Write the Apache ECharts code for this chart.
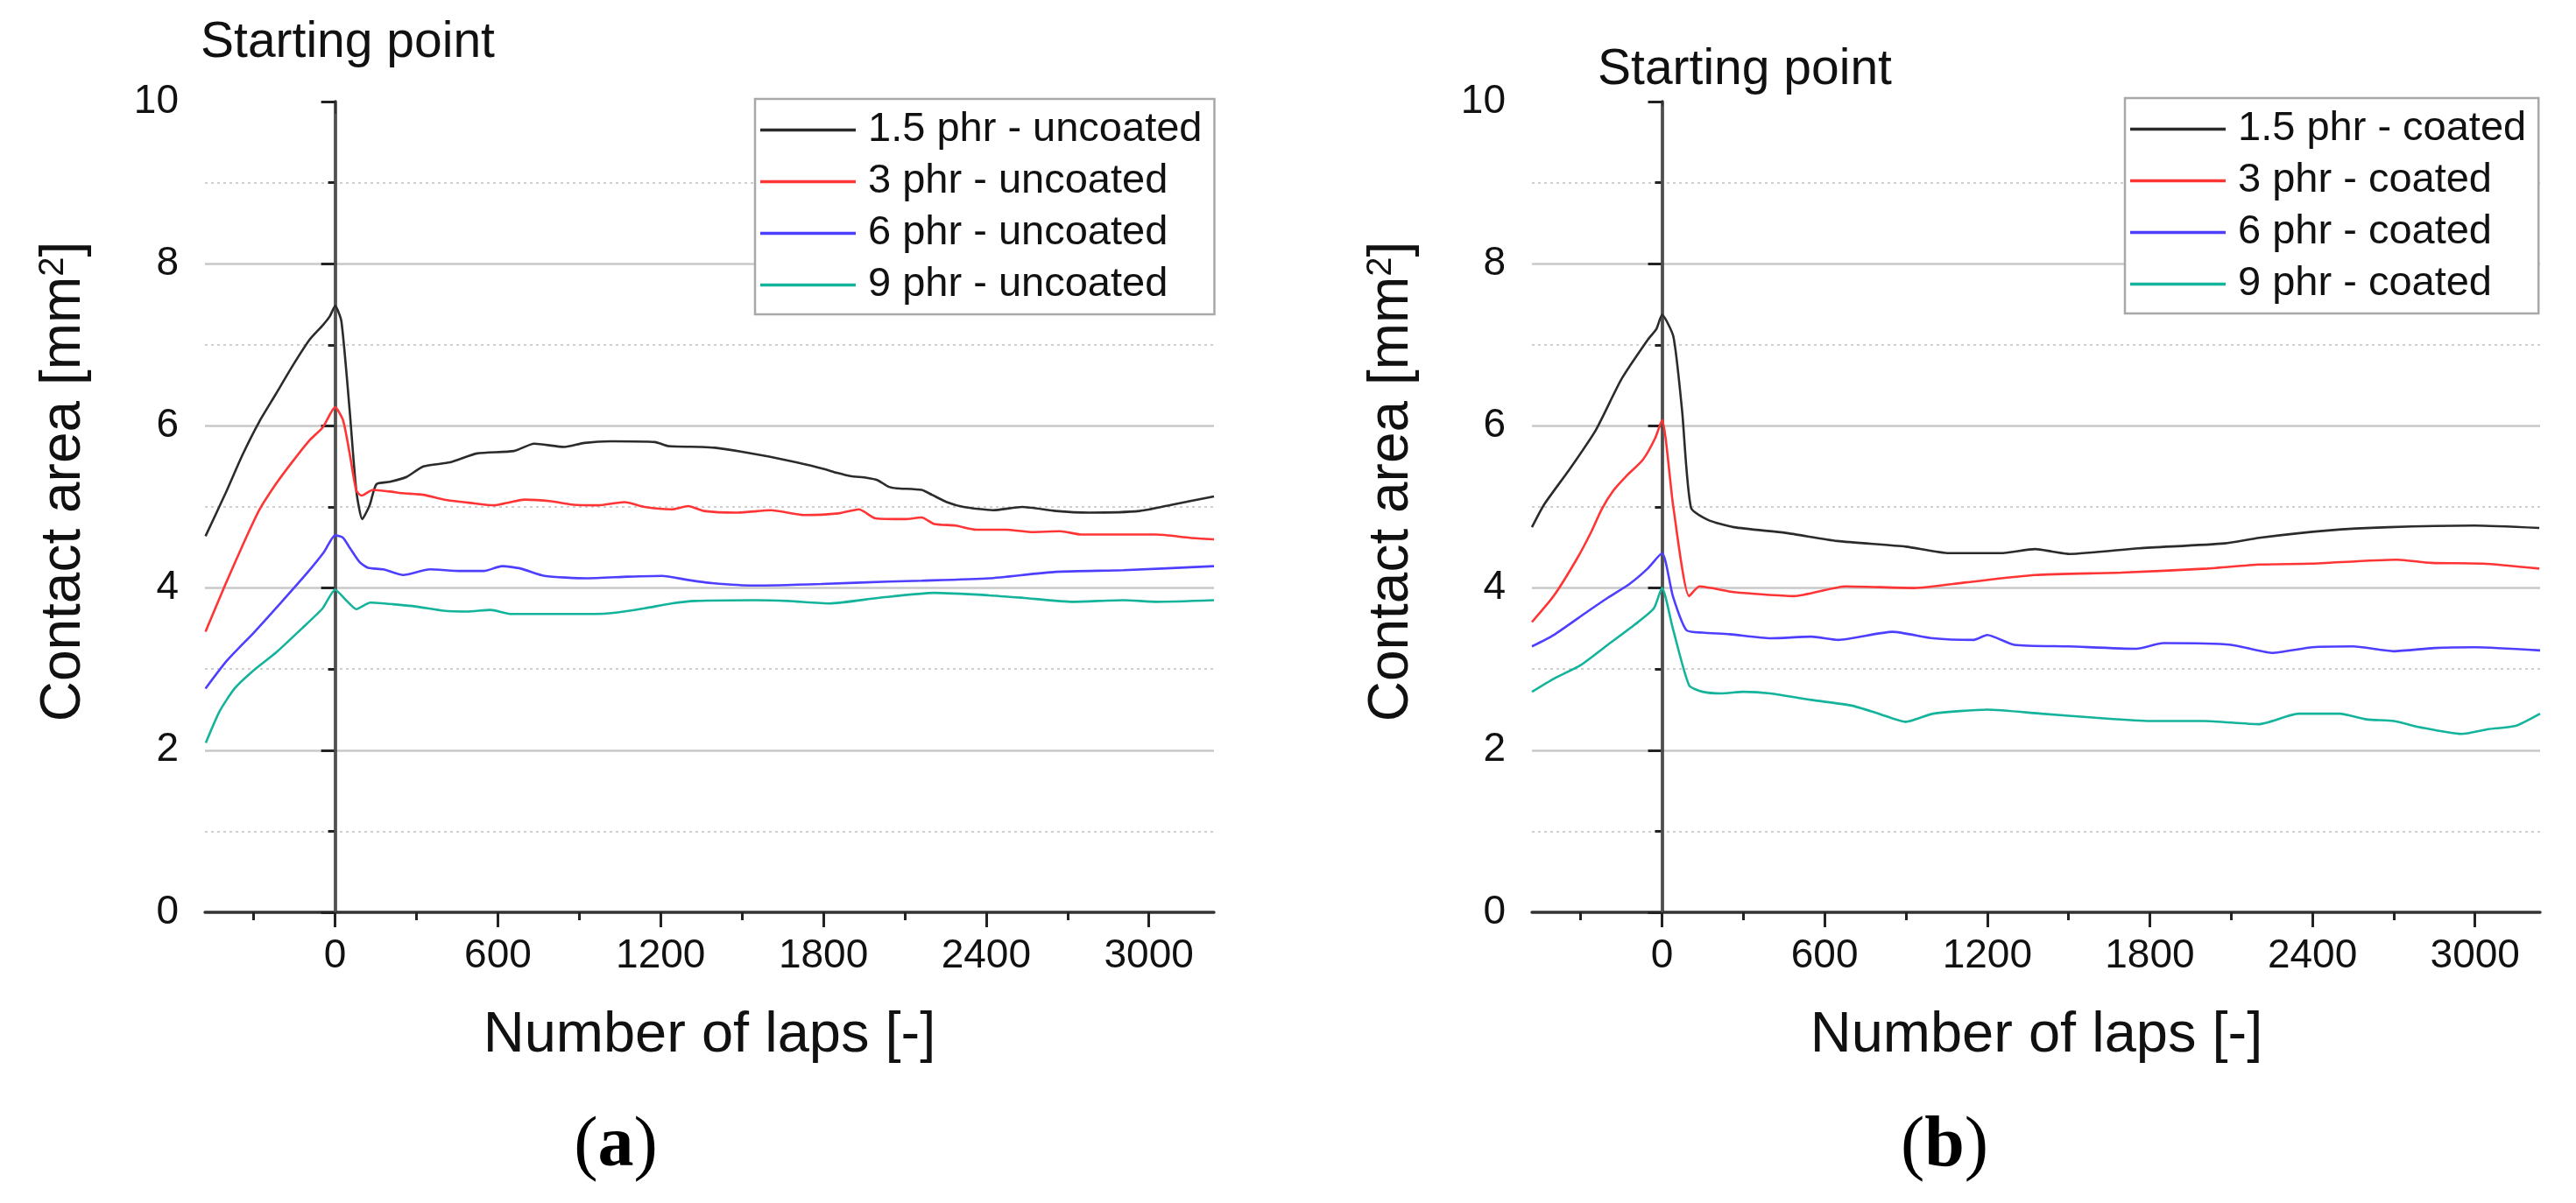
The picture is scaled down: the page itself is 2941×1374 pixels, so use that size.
<!DOCTYPE html>
<html>
<head>
<meta charset="utf-8">
<script src="https://cdn.jsdelivr.net/npm/echarts@6/dist/echarts.min.js"></script>
<style>
html,body{margin:0;padding:0;background:#fff;}
#chart{width:2941px;height:1374px;}
</style>
</head>
<body>
<div id="chart"></div>
<script>
// ---------- data ----------
const seriesNamesA = ['1.5 phr - uncoated', '3 phr - uncoated', '6 phr - uncoated', '9 phr - uncoated'];
const seriesNamesB = ['1.5 phr - coated', '3 phr - coated', '6 phr - coated', '9 phr - coated'];
const xTickLabels = [0, 600, 1200, 1800, 2400, 3000];
const xMinorTicks = [-300, 300, 900, 1500, 2100, 2700];

const uncoated15 = [[-478,4.64],[-404,5.17],[-342,5.64],[-280,6.05],[-219,6.39],[-157,6.74],[-95,7.06],[-46,7.24],[-20,7.35],[0,7.48],[23,7.29],[53,6.21],[78,5.20],[100,4.85],[127,5.02],[152,5.28],[202,5.31],[263,5.37],[325,5.50],[424,5.55],[523,5.66],[659,5.69],[734,5.78],[845,5.74],[919,5.79],[1018,5.81],[1179,5.80],[1229,5.75],[1349,5.74],[1400,5.73],[1500,5.68],[1600,5.62],[1700,5.55],[1800,5.47],[1850,5.42],[1900,5.38],[1960,5.36],[2000,5.33],[2040,5.25],[2070,5.23],[2162,5.21],[2200,5.15],[2255,5.06],[2317,5.00],[2425,4.96],[2533,5.00],[2657,4.95],[2780,4.93],[2966,4.95],[3089,5.03],[3240,5.13]];
const uncoated3 = [[-478,3.46],[-404,4.05],[-342,4.52],[-280,4.96],[-219,5.28],[-157,5.56],[-95,5.82],[-46,5.98],[0,6.23],[29,6.07],[53,5.67],[78,5.20],[98,5.14],[139,5.21],[202,5.19],[247,5.17],[325,5.15],[402,5.09],[499,5.05],[586,5.02],[647,5.06],[697,5.09],[796,5.07],[870,5.03],[969,5.02],[1067,5.06],[1141,5.00],[1240,4.97],[1302,5.01],[1359,4.95],[1483,4.93],[1607,4.96],[1729,4.90],[1855,4.92],[1931,4.97],[1992,4.86],[2100,4.85],[2162,4.87],[2209,4.79],[2287,4.77],[2363,4.72],[2472,4.72],[2565,4.69],[2673,4.70],[2750,4.66],[2905,4.66],[3028,4.66],[3151,4.62],[3240,4.60]];
const uncoated6 = [[-478,2.76],[-400,3.10],[-300,3.45],[-200,3.82],[-100,4.20],[-40,4.45],[0,4.65],[29,4.62],[53,4.50],[90,4.32],[121,4.25],[177,4.23],[251,4.16],[350,4.23],[462,4.21],[548,4.21],[615,4.27],[684,4.24],[772,4.15],[927,4.12],[1080,4.14],[1205,4.15],[1300,4.10],[1390,4.06],[1545,4.03],[1792,4.05],[2039,4.08],[2162,4.09],[2410,4.12],[2657,4.20],[2905,4.22],[3240,4.27]];
const uncoated9 = [[-477,2.09],[-426,2.48],[-371,2.76],[-309,2.96],[-216,3.21],[-123,3.50],[-46,3.75],[0,3.98],[40,3.85],[78,3.74],[130,3.82],[214,3.80],[301,3.77],[400,3.72],[486,3.71],[573,3.73],[649,3.68],[803,3.68],[957,3.68],[1018,3.69],[1141,3.75],[1240,3.81],[1328,3.84],[1545,3.85],[1669,3.84],[1823,3.81],[2007,3.88],[2209,3.94],[2410,3.91],[2533,3.88],[2720,3.83],[2905,3.85],[3028,3.83],[3240,3.85]];

const coated15 = [[-480,4.75],[-435,5.03],[-340,5.47],[-244,5.95],[-149,6.58],[-53,7.06],[-20,7.20],[0,7.37],[42,7.10],[74,6.19],[107,4.99],[170,4.84],[265,4.75],[456,4.68],[646,4.58],[900,4.51],[1059,4.43],[1249,4.43],[1377,4.48],[1440,4.45],[1504,4.42],[1759,4.49],[2076,4.55],[2204,4.62],[2457,4.71],[2681,4.75],[2998,4.77],[3237,4.74]];
const coated3 = [[-480,3.58],[-400,3.90],[-314,4.36],[-260,4.70],[-223,4.97],[-180,5.20],[-132,5.38],[-71,5.58],[-25,5.85],[0,6.07],[42,4.99],[100,3.90],[138,4.02],[265,3.95],[487,3.90],[678,4.02],[931,4.00],[1122,4.07],[1377,4.16],[1694,4.19],[2012,4.24],[2204,4.29],[2393,4.30],[2711,4.35],[2838,4.31],[3029,4.30],[3237,4.24]];
const coated6 = [[-480,3.28],[-400,3.42],[-275,3.71],[-200,3.88],[-120,4.05],[-53,4.24],[0,4.43],[40,3.90],[90,3.48],[150,3.45],[250,3.43],[400,3.38],[550,3.40],[650,3.36],[850,3.46],[1000,3.38],[1150,3.36],[1200,3.42],[1300,3.30],[1500,3.28],[1750,3.25],[1850,3.32],[2100,3.30],[2250,3.20],[2400,3.27],[2550,3.28],[2700,3.22],[2850,3.26],[3000,3.27],[3240,3.23]];
const coated9 = [[-480,2.72],[-400,2.88],[-300,3.05],[-200,3.30],[-100,3.55],[-30,3.75],[0,4.00],[40,3.50],[100,2.80],[150,2.72],[220,2.70],[300,2.72],[400,2.70],[550,2.62],[700,2.55],[800,2.45],[900,2.35],[1000,2.45],[1200,2.50],[1400,2.45],[1600,2.40],[1800,2.36],[2000,2.36],[2200,2.32],[2350,2.45],[2500,2.45],[2600,2.38],[2700,2.36],[2800,2.28],[2950,2.20],[3050,2.26],[3150,2.30],[3240,2.45]];

const startLineA = [[0,0],[0,9.85]];
const startLineB = [[0,0],[0,9.95]];

const lineColors = ['#2b2b2b', '#ff3535', '#4e3eff', '#14b39b'];

// ---------- chart ----------
const FONT = "'Liberation Sans', Arial, sans-serif";
const SERIF = "'Liberation Serif', 'Times New Roman', serif";
const chart = echarts.init(document.getElementById('chart'), null, {renderer: 'canvas'});

function xMain(gi) {
  return {
    type: 'value', gridIndex: gi, min: -480, max: 3240,
    axisLine: {show: true, onZero: false, lineStyle: {color: '#333', width: 3.5}},
    axisTick: {show: true, customValues: xTickLabels, length: 17, inside: false, lineStyle: {color: '#222', width: 3}},
    axisLabel: {customValues: xTickLabels, fontSize: 46, fontFamily: FONT, color: '#111', margin: 27,
                formatter: function (v) { return String(v); }},
    splitLine: {show: false}
  };
}
function xMinor(gi) {
  return {
    type: 'value', gridIndex: gi, min: -480, max: 3240, position: 'bottom',
    axisLine: {show: false},
    axisTick: {show: true, customValues: xMinorTicks, length: 9, lineStyle: {color: '#222', width: 3}},
    axisLabel: {show: false},
    splitLine: {show: false}
  };
}
function yAx(gi) {
  return {
    type: 'value', gridIndex: gi, min: 0, max: 10, interval: 2,
    axisLine: {show: true, lineStyle: {color: '#333', width: 3.5}},
    axisTick: {show: true, length: 16, lineStyle: {color: '#222', width: 3}},
    minorTick: {show: true, splitNumber: 2, length: 8, lineStyle: {color: '#222', width: 3}},
    axisLabel: {fontSize: 46, fontFamily: FONT, color: '#111', margin: 30},
    splitLine: {show: true, showMinLine: false, showMaxLine: false, lineStyle: {color: '#c8c8c8', width: 2.5}},
    minorSplitLine: {show: true, lineStyle: {color: '#cfcfcf', width: 2, type: [3, 4]}}
  };
}

const series = [];
const dataA = [uncoated15, uncoated3, uncoated6, uncoated9];
const dataB = [coated15, coated3, coated6, coated9];
function addLine(name, data, color, xi, yi, z) {
  series.push({
    name: name, type: 'line', data: data, xAxisIndex: xi, yAxisIndex: yi,
    showSymbol: false, symbol: 'none', smooth: 0.2, z: z || 3,
    lineStyle: {color: color, width: 2.6}, itemStyle: {color: color},
    emphasis: {disabled: true}, silent: true, animation: false
  });
}
addLine('startA', startLineA, '#555', 0, 0, 2);
addLine('startB', startLineB, '#555', 2, 1, 2);
series[0].lineStyle.width = 2.2; series[1].lineStyle.width = 2.2;
series[0].smooth = false; series[1].smooth = false;
for (let i = 0; i < 4; i++) addLine(seriesNamesA[i], dataA[i], lineColors[i], 0, 0);
for (let i = 0; i < 4; i++) addLine(seriesNamesB[i], dataB[i], lineColors[i], 2, 1);

function legendAt(names, left, top) {
  return {
    data: names.map(n => ({name: n, icon: 'rect'})),
    orient: 'vertical', left: left, top: top,
    itemWidth: 109, itemHeight: 3.5, itemGap: 12,
    padding: [12, 14, 10, 6],
    borderColor: '#a8a8a8', borderWidth: 2.5, backgroundColor: '#fff',
    textStyle: {fontSize: 47, fontFamily: FONT, color: '#111', lineHeight: 47, padding: [0, 0, 0, 9]},
    selectedMode: false
  };
}

const yTitle = {
  main: {fontSize: 64, fontFamily: FONT, color: '#111'},
  sup: {fontSize: 40, fontFamily: FONT, color: '#111', verticalAlign: 'top', lineHeight: 64}
};

function txt(x, y, text, size, extra) {
  return Object.assign({
    type: 'text', x: x, y: y, silent: true,
    style: {text: text, font: size + 'px ' + FONT, fill: '#111', textAlign: 'center', textVerticalAlign: 'middle'}
  }, extra || {});
}
function richYTitle(x, y) {
  return {
    type: 'text', x: x, y: y, rotation: Math.PI / 2, silent: true,
    style: {
      text: '{main|Contact area [mm}{sup|2}{main|]}',
      rich: yTitle, align: 'center', verticalAlign: 'middle', fill: '#111'
    }
  };
}
function caption(x, y, letter) {
  return {
    type: 'text', x: x, y: y, silent: true,
    style: {
      text: '{p|(}{b|' + letter + '}{p|)}', align: 'center', verticalAlign: 'middle',
      rich: {
        p: {fontSize: 82, fontFamily: SERIF, color: '#111'},
        b: {fontSize: 82, fontFamily: SERIF, fontWeight: 'bold', color: '#111'}
      }
    }
  };
}

const option = {
  backgroundColor: '#fff',
  animation: false,
  grid: [
    {left: 234, right: 1555, top: 116, bottom: 332, containLabel: false},
    {left: 1749, right: 41, top: 116, bottom: 332, containLabel: false}
  ],
  xAxis: [xMain(0), xMinor(0), xMain(1), xMinor(1)],
  yAxis: [yAx(0), yAx(1)],
  legend: [legendAt(seriesNamesA, 862, 113), legendAt(seriesNamesB, 2426, 112)],
  series: series,
  graphic: [
    txt(397, 49, 'Starting point', 57),
    txt(1992, 80, 'Starting point', 57),
    richYTitle(73, 550),
    richYTitle(1589, 550),
    txt(810, 1183, 'Number of laps [-]', 65),
    txt(2325, 1183, 'Number of laps [-]', 65),
    caption(703, 1310, 'a'),
    caption(2220, 1310, 'b')
  ]
};
chart.setOption(option);
</script>
</body>
</html>
